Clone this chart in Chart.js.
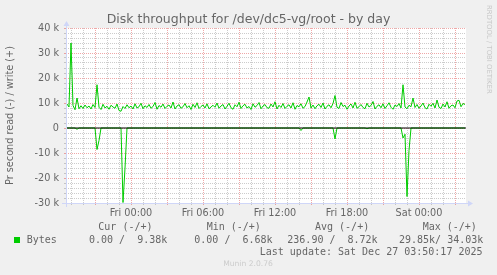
<!DOCTYPE html>
<html><head><meta charset="utf-8">
<script src="https://cdn.jsdelivr.net/npm/chart.js@4"></script>
<style>html,body{margin:0;padding:0;background:#f0f0f0;overflow:hidden}canvas{display:block}</style>
</head><body>
<canvas id="c" width="497" height="275"></canvas>
<script>
// ---- data ----
const chartTitle = 'Disk throughput for /dev/dc5-vg/root - by day';
const yAxisTitle = 'Pr second read (-) / write (+)';
const sampleStartMin = -320;   // minutes relative to Fri 00:00
const sampleStepMin = 10;
const xRange = [-325, 1675];
const xTickMinutes = [0, 360, 720, 1080, 1440];
const xTickLabels = ['Fri 00:00', 'Fri 06:00', 'Fri 12:00', 'Fri 18:00', 'Sat 00:00'];
const yTickValues = [40000, 30000, 20000, 10000, 0, -10000, -20000, -30000];
const yTickLabels = ['40 k', '30 k', '20 k', '10 k', '0', '-10 k', '-20 k', '-30 k'];
// write bytes/s (thousands)
const writeK = [
 9.6,8.4,34.0,9.0,7.3,12.0,7.7,8.9,7.8,9.2, 8.1,8.8,7.6,9.4,8.2,17.3,8.3,7.4,9.5,8.0,
 8.7,7.5,9.1,8.4,7.9,9.6,7.0,6.7,8.6,7.8, 9.3,8.1,8.8,7.6,9.7,8.0,8.5,9.9,7.7,8.9,
 8.2,9.4,7.9,8.6,10.2,7.5,9.0,8.3,9.6,7.8, 8.7,9.2,8.0,10.4,7.6,8.8,9.3,7.9,8.5,9.8,
 8.1,8.9,7.4,9.5,8.2,10.1,7.8,8.6,9.2,8.0, 9.7,7.7,8.4,9.1,8.3,10.0,7.9,8.8,9.4,7.6,
 8.7,9.9,8.1,7.5,9.3,8.5,10.3,7.8,8.9,9.5, 8.0,8.6,7.4,9.7,8.3,9.0,10.2,7.7,8.8,9.4,
 8.1,7.9,9.6,8.4,10.5,7.6,9.1,8.2,9.8,7.8, 8.7,9.3,8.0,10.1,7.5,9.0,8.5,9.7,7.9,8.6,
 10.4,12.4,8.0,9.2,7.7,8.9,9.5,8.2,10.0,7.6, 8.7,9.3,8.1,9.8,13.0,8.3,7.8,10.2,8.6,9.1,
 7.5,8.8,9.6,8.0,10.3,7.9,8.5,9.4,8.2,7.7, 9.9,8.4,9.0,10.6,7.6,8.7,9.3,8.1,9.7,7.8,
 8.9,10.1,8.3,7.5,9.2,8.6,9.8,8.0,17.3,8.4, 7.7,9.1,8.5,12.0,8.2,9.4,7.9,8.8,10.0,8.1,
 7.6,9.5,8.7,9.9,8.0,11.2,8.3,7.8,9.6,8.4, 10.5,7.9,8.9,9.2,8.1,10.8,11.1,8.5,9.8,9.4
];
// read bytes/s (thousands, drawn negative)
const readK = [
 0,0,0,0,0,-0.5,0,0,0,0, 0,0,0,0,0,-8.6,-5.0,0,0,0,
 0,0,0,0,0,0,0,0,-29.8,-16.0, 0,0,0,0,0,0,0,0,0,0,
 0,0,0,0,0,0,0,0,0,0, 0,0,0,0,0,0,0,0,0,0,
 0,0,0,0,0,0,0,0,0,0, 0,0,0,0,0,0,0,0,0,0,
 0,0,0,0,0,0,0,0,0,0, 0,0,0,0,0,0,0,0,0,0,
 0,0,0,0,0,0,0,0,0,0, 0,0,0,0,0,0,0,-1.0,0,0,
 0,0,0,0,0,0,0,0,0,0, 0,0,0,0,-4.4,0,0,0,0,0,
 0,0,0,0,0,0,0,0,0,0, -0.3,0,0,0,0,0,0,0,0,0,
 0,0,0,0,0,0,0,0,-4.0,-2.5, -27.4,-9.0,0,0,0,0,0,0,0,0,
 0,0,0,0,0,0,0,0,0,0, 0,0,0,0,0,0,0,0,0,0
];
const seriesName = 'Bytes';
const legendHeaders = ['Cur (-/+)', 'Min (-/+)', 'Avg (-/+)', 'Max (-/+)'];
const legendValues = ['0.00 /  9.38k', '0.00 /  6.68k', '236.90 /  8.72k', '29.85k/ 34.03k'];
const lastUpdate = 'Last update: Sat Dec 27 03:50:17 2025';
const footerText = 'Munin 2.0.76';
const watermark = 'RRDTOOL / TOBI OETIKER';

// ---- styles ----
const GREEN = '#00cc00';
const FONT_COLOR = '#666666';
const MAJOR = 'rgba(222,79,79,0.7)';
const MINOR = 'rgba(143,143,143,0.9)';
const AXIS = '#CFD6F8';

const times = writeK.map((_, i) => sampleStartMin + i * sampleStepMin);
const toPts = (arr) => arr.map((v, i) => ({ x: times[i], y: v * 1000 }));

const deco = {
  id: 'deco',
  beforeDraw(chart) {
    const { ctx, chartArea: a } = chart;
    ctx.save();
    ctx.fillStyle = '#f0f0f0';
    ctx.fillRect(0, 0, chart.width, chart.height);
    ctx.fillStyle = '#ffffff';
    ctx.fillRect(a.left, a.top, a.right - a.left, a.bottom - a.top);
    ctx.restore();
  },
  afterDraw(chart) {
    const { ctx, chartArea: a } = chart;
    ctx.save();
    // axes
    const x0 = Math.floor(a.left) + 0.5, y0 = Math.floor(a.bottom) + 0.5;
    ctx.strokeStyle = AXIS; ctx.fillStyle = AXIS; ctx.lineWidth = 1;
    ctx.beginPath(); ctx.moveTo(a.left - 4, y0); ctx.lineTo(a.right + 4, y0); ctx.stroke();
    ctx.beginPath(); ctx.moveTo(x0, a.bottom + 4); ctx.lineTo(x0, a.top - 4); ctx.stroke();
    ctx.beginPath(); ctx.moveTo(a.right + 2, y0 - 3); ctx.lineTo(a.right + 2, y0 + 3); ctx.lineTo(a.right + 7, y0); ctx.closePath(); ctx.fill();
    ctx.beginPath(); ctx.moveTo(x0 - 3, a.top - 2); ctx.lineTo(x0 + 3, a.top - 2); ctx.lineTo(x0, a.top - 7); ctx.closePath(); ctx.fill();

    // title
    ctx.fillStyle = FONT_COLOR;
    ctx.font = '12.5px "DejaVu Sans"';
    ctx.textAlign = 'center'; ctx.textBaseline = 'alphabetic';
    ctx.fillText(chartTitle, 248.5, 22.5);

    // y title
    ctx.save();
    ctx.translate(10.5, 115.5); ctx.rotate(-Math.PI / 2);
    ctx.font = '9.7px "DejaVu Sans"'; ctx.textAlign = 'center'; ctx.textBaseline = 'middle';
    ctx.fillText(yAxisTitle, 0, 0);
    ctx.restore();

    // watermark
    ctx.save();
    ctx.translate(488.5, 5); ctx.rotate(Math.PI / 2);
    ctx.font = '6.9px "DejaVu Sans"'; ctx.fillStyle = '#c8c8c8';
    ctx.textAlign = 'left'; ctx.textBaseline = 'middle';
    ctx.fillText(watermark, 0, 0);
    ctx.restore();

    // legend
    ctx.font = '10px "DejaVu Sans Mono"';
    ctx.textBaseline = 'middle'; ctx.textAlign = 'left';
    const hx = [98.3, 206.7, 315, 422.7];
    legendHeaders.forEach((t, i) => ctx.fillText(t, hx[i], 227.5));
    ctx.fillStyle = GREEN; ctx.fillRect(14, 237, 6, 6);
    ctx.fillStyle = FONT_COLOR;
    ctx.fillText(seriesName, 26.7, 240);
    const vx = [89, 194.3, 287.3, 399];
    legendValues.forEach((t, i) => ctx.fillText(t, vx[i], 240));
    ctx.textAlign = 'right';
    ctx.fillText(lastUpdate, 482.5, 252);

    // footer
    ctx.textAlign = 'center';
    ctx.font = '7.6px "DejaVu Sans"'; ctx.fillStyle = '#cccccc';
    ctx.fillText(footerText, 248, 264);
    ctx.restore();
  }
};

new Chart(document.getElementById('c'), {
  type: 'line',
  data: {
    datasets: [
      { label: 'zero', data: [{ x: xRange[0], y: 0 }, { x: xRange[1], y: 0 }], borderColor: '#000000', borderWidth: 1, pointRadius: 0 },
      { label: seriesName + ' write', data: toPts(writeK), borderColor: GREEN, borderWidth: 1, pointRadius: 0, tension: 0 },
      { label: seriesName + ' read', data: toPts(readK), borderColor: GREEN, borderWidth: 1, pointRadius: 0, tension: 0 }
    ]
  },
  options: {
    responsive: false, animation: false, devicePixelRatio: 1,
    layout: { padding: { left: 0, right: 31, top: 28, bottom: 0 } },
    plugins: { legend: { display: false }, tooltip: { enabled: false }, title: { display: false } },
    scales: {
      x: {
        type: 'linear', min: xRange[0], max: xRange[1],
        afterBuildTicks: (s) => {
          const t = [];
          for (let m = Math.ceil(xRange[0] / 60) * 60; m <= xRange[1]; m += 60) t.push({ value: m });
          s.ticks = t;
        },
        afterFit: (s) => { s.height = 72; },
        grid: {
          color: (c) => (c.tick && c.tick.value % 180 === 0) ? MAJOR : MINOR,
          lineWidth: (c) => (c.tick && c.tick.value % 180 === 0) ? 0.7 : 0.5,
          tickLength: 2, drawTicks: true
        },
        border: { display: false, dash: [1, 1] },
        ticks: {
          autoSkip: false, maxRotation: 0, minRotation: 0, padding: 3, color: FONT_COLOR,
          font: { family: 'DejaVu Sans', size: 9.7 },
          callback: (v) => { const k = xTickMinutes.indexOf(v); return k >= 0 ? xTickLabels[k] : ''; }
        }
      },
      y: {
        type: 'linear', min: -30000, max: 40000,
        afterBuildTicks: (s) => {
          const t = [];
          for (let v = -30000; v <= 40000; v += 2000) t.push({ value: v });
          s.ticks = t;
        },
        afterFit: (s) => { s.width = 66; },
        grid: {
          color: (c) => (c.tick && c.tick.value % 10000 === 0) ? MAJOR : MINOR,
          lineWidth: (c) => (c.tick && c.tick.value % 10000 === 0) ? 0.7 : 0.5,
          tickLength: 2, drawTicks: true
        },
        border: { display: false, dash: [1, 1] },
        ticks: {
          autoSkip: false, padding: 5, color: FONT_COLOR,
          font: { family: 'DejaVu Sans', size: 9.7 },
          callback: (v) => { const k = yTickValues.indexOf(v); return k >= 0 ? yTickLabels[k] : ''; }
        }
      }
    }
  },
  plugins: [deco]
});
</script>
</body></html>
